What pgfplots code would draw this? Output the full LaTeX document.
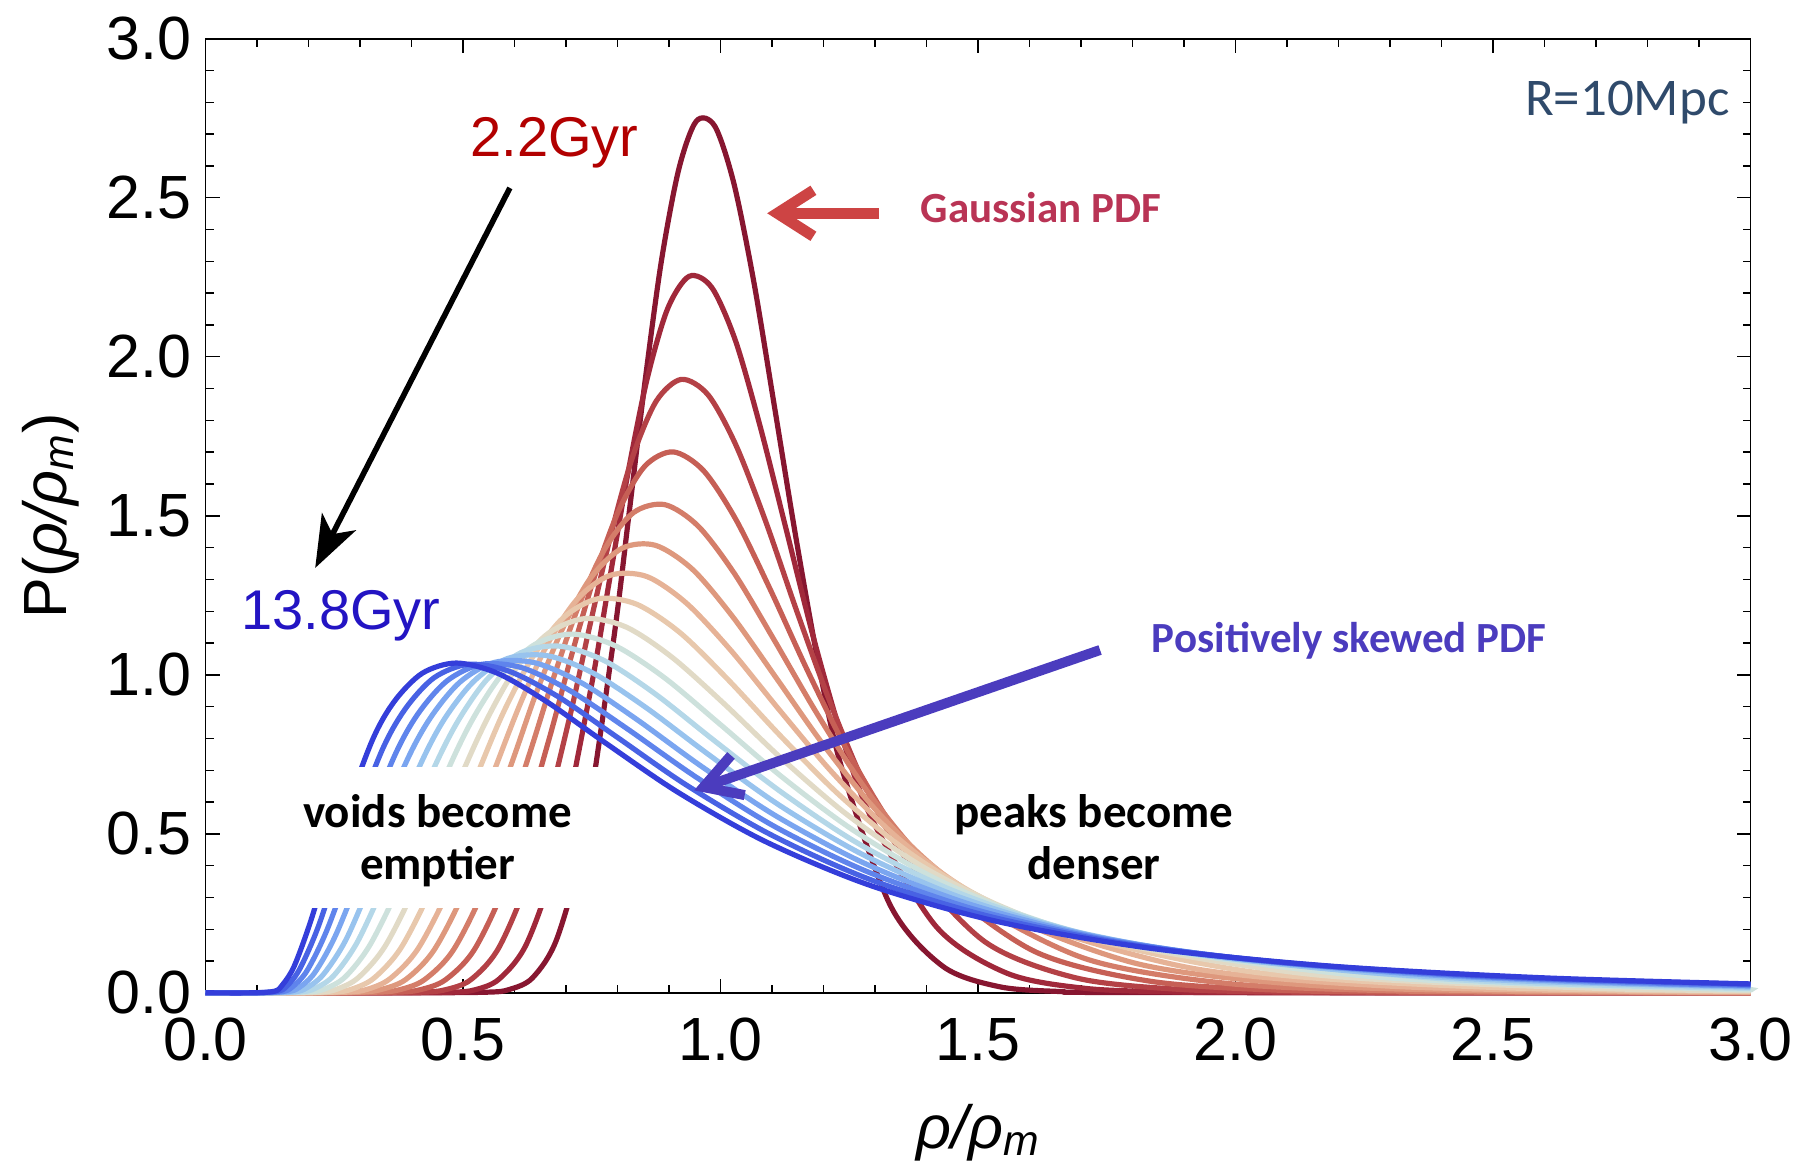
\documentclass[border=0pt]{standalone}
\usepackage{fontspec}
\setmainfont{Liberation Sans}
\newfontfamily\calibri{Carlito}
\usepackage{pgfplots}
\pgfplotsset{compat=1.18}
\usetikzlibrary{arrows.meta}
\definecolor{c1}{RGB}{135,22,48}
\definecolor{c2}{RGB}{160,40,58}
\definecolor{c3}{RGB}{180,65,70}
\definecolor{c4}{RGB}{198,95,85}
\definecolor{c5}{RGB}{212,125,105}
\definecolor{c6}{RGB}{222,152,125}
\definecolor{c7}{RGB}{230,178,150}
\definecolor{c8}{RGB}{232,200,172}
\definecolor{c9}{RGB}{225,218,198}
\definecolor{c10}{RGB}{205,225,220}
\definecolor{c11}{RGB}{180,215,232}
\definecolor{c12}{RGB}{152,195,238}
\definecolor{c13}{RGB}{122,165,240}
\definecolor{c14}{RGB}{95,132,236}
\definecolor{c15}{RGB}{72,98,228}
\definecolor{c16}{RGB}{52,62,218}
\definecolor{rcol}{RGB}{47,74,107}
\definecolor{gyrred}{RGB}{178,0,0}
\definecolor{gyrblue}{RGB}{35,20,195}
\definecolor{gausstext}{RGB}{185,52,85}
\definecolor{gaussarrow}{RGB}{205,68,68}
\definecolor{skewcol}{RGB}{75,60,190}
\begin{document}
\begin{tikzpicture}
\path[use as bounding box] (-102.75pt,-90.1pt) rectangle (806.25pt,496.4pt);
\begin{axis}[
  at={(0pt,0pt)}, anchor=south west,
  scale only axis, width=772.5pt, height=477pt,
  xmin=0, xmax=3, ymin=0, ymax=3,
  clip=false,
  axis line style={line width=0.8pt},
  xtick={0,0.5,1,1.5,2,2.5,3}, ytick={0,0.5,1,1.5,2,2.5,3},
  xticklabels={0.0,0.5,1.0,1.5,2.0,2.5,3.0},
  yticklabels={0.0,0.5,1.0,1.5,2.0,2.5,3.0},
  minor x tick num=4, minor y tick num=4,
  tick align=inside,
  major tick length=7pt, minor tick length=4pt,
  tick style={black, line width=0.7pt},
  ticklabel style={font=\fontsize{30.5}{36}\selectfont, inner sep=0pt},
  xticklabel style={yshift=-12.5pt},
  yticklabel style={xshift=-7pt},
  curve/.style={line width=2.6pt, smooth, no markers},
]
\addplot[curve, c1] coordinates {(0,0) (0.4,0) (0.547,0.002) (0.589,0.010) (0.635,0.047) (0.683,0.173) (0.736,0.496) (0.792,1.105) (0.822,1.501) (0.853,1.917) (0.885,2.299) (0.919,2.590) (0.953,2.741) (0.989,2.725) (1.026,2.545) (1.065,2.233) (1.105,1.841) (1.147,1.426) (1.190,1.037) (1.235,0.709) (1.330,0.274) (1.432,0.083) (1.542,0.019) (1.660,0.004) (1.788,0.001) (3.0,0)};
\addplot[curve, c2] coordinates {(0,0) (0.35,0) (0.477,0.002) (0.522,0.009) (0.570,0.043) (0.624,0.156) (0.683,0.437) (0.748,0.954) (0.783,1.284) (0.819,1.623) (0.857,1.927) (0.897,2.150) (0.939,2.253) (0.983,2.218) (1.029,2.051) (1.077,1.781) (1.128,1.454) (1.181,1.114) (1.236,0.803) (1.295,0.543) (1.420,0.206) (1.557,0.061) (1.708,0.014) (1.874,0.003) (2.056,0.0004) (3.0,0)};
\addplot[curve, c3] coordinates {(0,0) (0.3,0) (0.419,0.002) (0.464,0.009) (0.515,0.041) (0.571,0.146) (0.635,0.402) (0.706,0.859) (0.745,1.145) (0.786,1.433) (0.829,1.684) (0.875,1.860) (0.924,1.929) (0.976,1.880) (1.030,1.722) (1.088,1.481) (1.149,1.196) (1.214,0.908) (1.282,0.647) (1.355,0.434) (1.513,0.161) (1.690,0.047) (1.889,0.011) (2.112,0.002) (2.361,0.0003) (3.0,0)};
\addplot[curve, c4] coordinates {(0,0) (0.25,0) (0.370,0.002) (0.415,0.009) (0.466,0.041) (0.524,0.141) (0.591,0.380) (0.667,0.797) (0.709,1.051) (0.754,1.302) (0.802,1.515) (0.853,1.656) (0.908,1.701) (0.967,1.642) (1.030,1.488) (1.097,1.267) (1.169,1.013) (1.246,0.762) (1.328,0.538) (1.416,0.357) (1.610,0.130) (1.832,0.037) (2.086,0.008) (2.377,0.0014) (2.709,0.0002) (3.0,0)};
\addplot[curve, c5] coordinates {(0,0) (0.22,0) (0.332,0.002) (0.375,0.009) (0.425,0.041) (0.483,0.139) (0.551,0.368) (0.630,0.756) (0.675,0.987) (0.723,1.210) (0.775,1.395) (0.831,1.510) (0.892,1.535) (0.957,1.467) (1.028,1.316) (1.104,1.110) (1.187,0.879) (1.276,0.654) (1.372,0.457) (1.476,0.300) (1.709,0.107) (1.981,0.030) (2.299,0.0065) (2.669,0.0011) (3.0,0.0002)};
\addplot[curve, c6] coordinates {(0,0) (0.2,0) (0.300,0.002) (0.340,0.010) (0.389,0.042) (0.446,0.140) (0.514,0.362) (0.596,0.729) (0.642,0.942) (0.693,1.144) (0.748,1.305) (0.809,1.398) (0.874,1.407) (0.946,1.331) (1.024,1.182) (1.110,0.986) (1.203,0.773) (1.305,0.569) (1.416,0.394) (1.537,0.256) (1.813,0.090) (2.143,0.024) (2.535,0.005) (3.0,0.0009)};
\addplot[curve, c7] coordinates {(0,0) (0.18,0) (0.274,0.002) (0.312,0.010) (0.358,0.044) (0.414,0.142) (0.482,0.361) (0.564,0.713) (0.612,0.912) (0.664,1.096) (0.722,1.238) (0.786,1.313) (0.857,1.309) (0.934,1.225) (1.020,1.077) (1.114,0.890) (1.218,0.691) (1.332,0.504) (1.458,0.345) (1.598,0.222) (1.920,0.076) (2.311,0.020) (2.786,0.0042) (3.0,0.0021)};
\addplot[curve, c8] coordinates {(0,0) (0.16,0) (0.248,0.002) (0.283,0.011) (0.327,0.046) (0.381,0.145) (0.448,0.362) (0.531,0.700) (0.580,0.887) (0.635,1.055) (0.695,1.180) (0.762,1.239) (0.837,1.222) (0.921,1.133) (1.014,0.986) (1.117,0.807) (1.232,0.620) (1.361,0.447) (1.503,0.303) (1.662,0.193) (2.036,0.065) (2.499,0.017) (3.0,0.0042)};
\addplot[curve, c9] coordinates {(0,0) (0.15,0) (0.224,0.002) (0.256,0.012) (0.297,0.048) (0.350,0.150) (0.416,0.365) (0.499,0.692) (0.549,0.868) (0.604,1.023) (0.667,1.132) (0.738,1.177) (0.817,1.150) (0.906,1.055) (1.007,0.909) (1.119,0.736) (1.246,0.560) (1.389,0.400) (1.549,0.269) (1.729,0.169) (2.160,0.056) (2.704,0.014) (3.0,0.0071)};
\addplot[curve, c10] coordinates {(0,0) (0.13,0) (0.203,0.003) (0.233,0.013) (0.272,0.051) (0.321,0.155) (0.386,0.371) (0.468,0.691) (0.518,0.858) (0.575,1.000) (0.640,1.096) (0.713,1.128) (0.796,1.091) (0.891,0.991) (0.998,0.846) (1.120,0.678) (1.258,0.511) (1.415,0.361) (1.594,0.240) (1.797,0.150) (2.288,0.048) (2.922,0.0122) (3.0,0.0104)};
\addplot[curve, c11] coordinates {(0,0) (0.12,0) (0.186,0.003) (0.213,0.014) (0.249,0.054) (0.296,0.163) (0.358,0.381) (0.440,0.694) (0.490,0.854) (0.547,0.986) (0.613,1.070) (0.688,1.090) (0.775,1.044) (0.874,0.939) (0.988,0.793) (1.119,0.630) (1.268,0.469) (1.440,0.329) (1.638,0.216) (1.864,0.134) (2.421,0.042) (3.0,0.0139)};
\addplot[curve, c12] coordinates {(0,0) (0.11,0) (0.172,0.003) (0.196,0.015) (0.229,0.058) (0.274,0.171) (0.333,0.393) (0.413,0.703) (0.462,0.856) (0.520,0.978) (0.586,1.051) (0.664,1.060) (0.753,1.005) (0.857,0.895) (0.977,0.749) (1.116,0.588) (1.277,0.434) (1.464,0.301) (1.680,0.196) (1.931,0.120) (2.25,0.065) (2.558,0.037) (3.0,0.0173)};
\addplot[curve, c13] coordinates {(0,0) (0.1,0) (0.160,0.004) (0.182,0.017) (0.212,0.063) (0.253,0.182) (0.310,0.409) (0.387,0.716) (0.436,0.863) (0.494,0.977) (0.561,1.039) (0.639,1.038) (0.731,0.974) (0.838,0.859) (0.964,0.711) (1.111,0.553) (1.284,0.404) (1.485,0.278) (1.721,0.179) (1.997,0.109) (2.35,0.059) (2.698,0.033) (3.0,0.0206)};
\addplot[curve, c14] coordinates {(0,0) (0.1,0) (0.150,0.004) (0.169,0.019) (0.197,0.069) (0.235,0.194) (0.289,0.427) (0.364,0.734) (0.412,0.876) (0.469,0.981) (0.536,1.033) (0.615,1.022) (0.709,0.949) (0.820,0.829) (0.951,0.680) (1.105,0.523) (1.288,0.379) (1.505,0.257) (1.761,0.164) (2.063,0.099) (2.45,0.053) (2.843,0.029) (3.0,0.0235)};
\addplot[curve, c15] coordinates {(0,0) (0.095,0) (0.141,0.005) (0.158,0.021) (0.183,0.075) (0.219,0.208) (0.269,0.450) (0.341,0.756) (0.388,0.893) (0.444,0.991) (0.511,1.033) (0.590,1.011) (0.686,0.930) (0.800,0.803) (0.935,0.652) (1.098,0.497) (1.291,0.356) (1.523,0.240) (1.799,0.151) (2.129,0.090) (2.55,0.048) (3.0,0.0262)};
\addplot[curve, c16] coordinates {(0,0) (0.09,0) (0.134,0.005) (0.149,0.024) (0.172,0.083) (0.204,0.224) (0.252,0.475) (0.321,0.783) (0.366,0.915) (0.421,1.005) (0.487,1.037) (0.567,1.005) (0.663,0.915) (0.779,0.783) (0.919,0.629) (1.088,0.475) (1.292,0.337) (1.538,0.224) (1.835,0.140) (2.193,0.083) (2.6,0.047) (3.0,0.028)};
% white box behind the "voids" text
\fill[white] (axis cs:0.17,0.268) rectangle (axis cs:0.79,0.711);
% annotations
\node[anchor=base, inner sep=0pt, font=\calibri\bfseries\fontsize{23.5}{28}\selectfont] at (axis cs:0.4505,0.520) {voids become};
\node[anchor=base, inner sep=0pt, font=\calibri\bfseries\fontsize{23.5}{28}\selectfont] at (axis cs:0.4505,0.355) {emptier};
\node[anchor=base, inner sep=0pt, font=\calibri\bfseries\fontsize{23.5}{28}\selectfont] at (axis cs:1.725,0.520) {peaks become};
\node[anchor=base, inner sep=0pt, font=\calibri\bfseries\fontsize{23.5}{28}\selectfont] at (axis cs:1.725,0.355) {denser};
\node[anchor=base east, inner sep=0pt, text=rcol, font=\calibri\fontsize{26.5}{30}\selectfont] at (axis cs:2.960,2.760) {R=10Mpc};
\node[anchor=base west, inner sep=0pt, text=gyrred, font=\fontsize{28}{32}\selectfont] at (axis cs:0.5136,2.629) {2.2Gyr};
\node[anchor=base west, inner sep=0pt, text=gyrblue, font=\fontsize{28}{32}\selectfont] at (axis cs:0.069,1.141) {13.8Gyr};
\node[anchor=base west, inner sep=0pt, text=gausstext, font=\calibri\bfseries\fontsize{21.5}{26}\selectfont] at (axis cs:1.388,2.421) {Gaussian PDF};
\node[anchor=base west, inner sep=0pt, text=skewcol, font=\calibri\bfseries\fontsize{21.5}{26}\selectfont] at (axis cs:1.837,1.069) {Positively skewed PDF};
\draw[black, line width=2.8pt, -{Stealth[length=26pt,width=19pt,inset=7pt]}] (axis cs:0.591,2.531) -- (axis cs:0.213,1.336);
% Gaussian arrow (shaft + chevron head)
\draw[gaussarrow, line width=5.5pt] (axis cs:1.3078,2.4513) -- (axis cs:1.1105,2.4513);
\draw[gaussarrow, line width=5.5pt, line join=miter, line cap=butt] (axis cs:1.1804,2.5236) -- (axis cs:1.1105,2.4513) -- (axis cs:1.1804,2.3789);
% skewed arrow (shaft + chevron head)
\draw[skewcol, line width=5pt] (axis cs:1.737,1.078) -- (axis cs:0.967,0.6469);
\draw[skewcol, line width=5pt, line join=miter, line cap=butt] (axis cs:1.0204,0.7465) -- (axis cs:0.967,0.6469) -- (axis cs:1.047,0.6217);
\end{axis}
\node[anchor=base, inner sep=0pt, font=\fontsize{30.5}{36}\selectfont] at (386.25pt,-77.6pt) {\itshape ρ/ρ\textsubscript{m}};
\node[rotate=90, anchor=base, inner sep=0pt, font=\fontsize{30.5}{36}\selectfont] at (-69.5pt,238.5pt) {P(\textit{ρ/ρ\textsubscript{m}})};
\end{tikzpicture}
\end{document}
